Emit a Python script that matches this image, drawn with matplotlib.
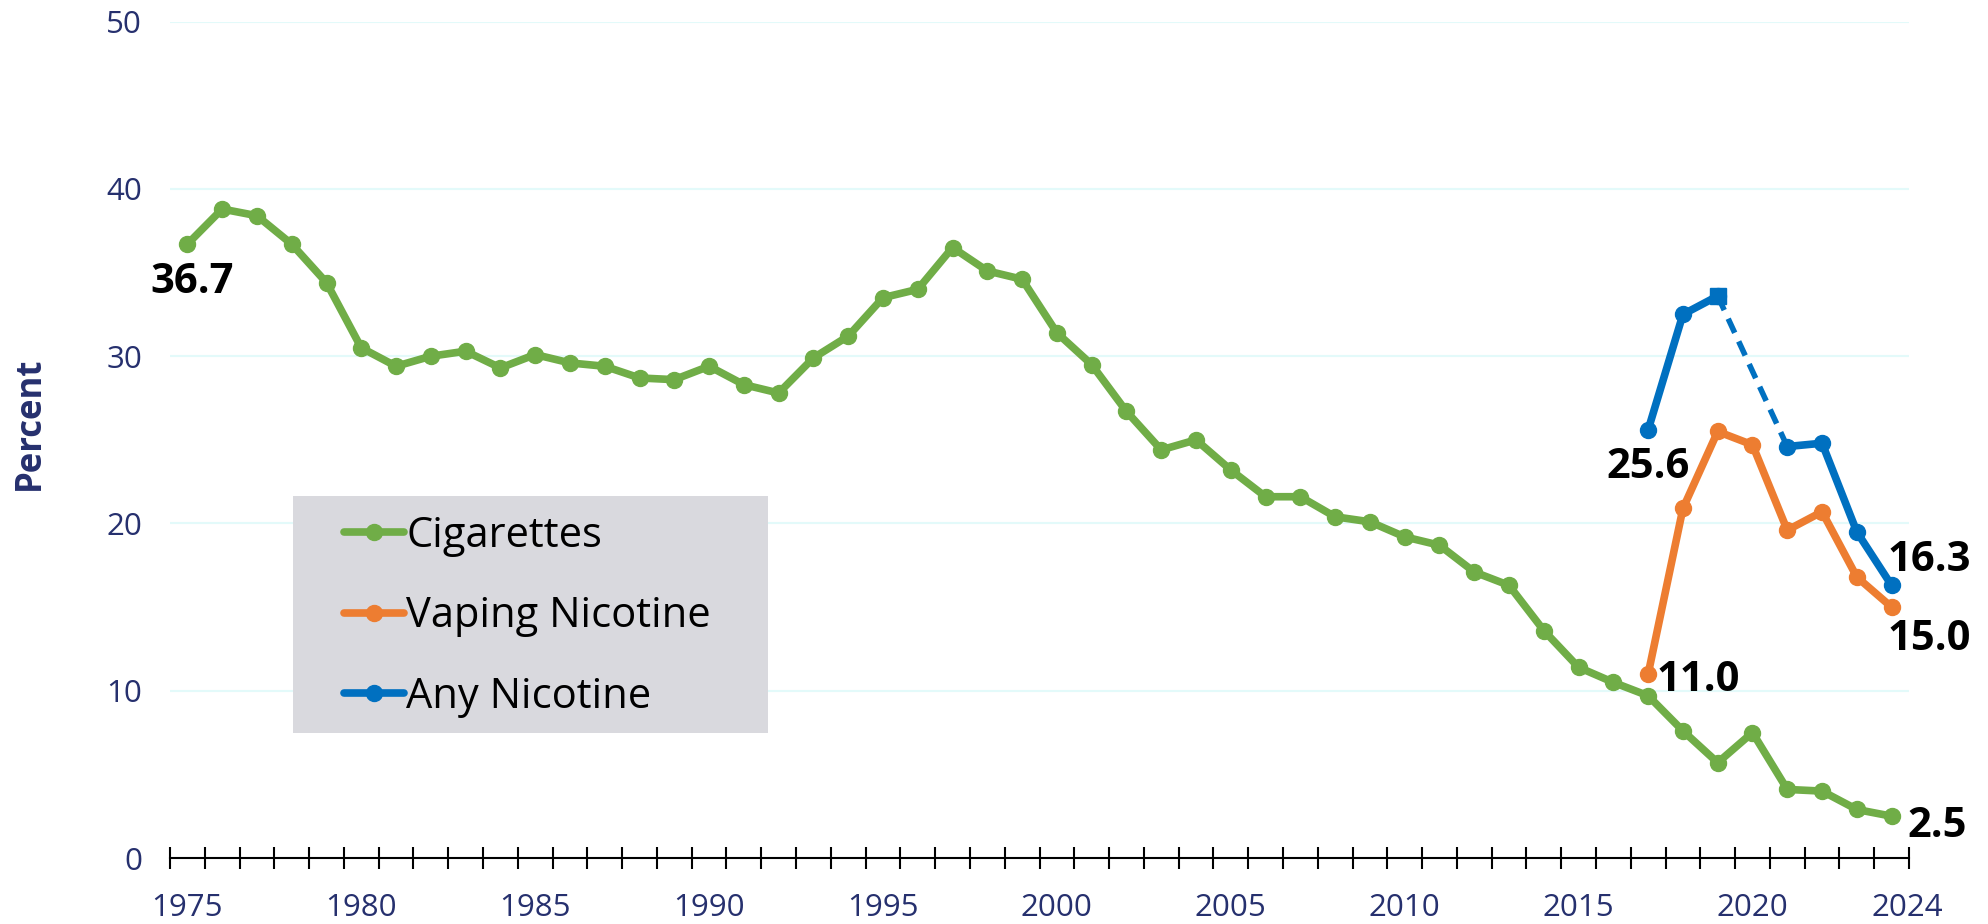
import numpy as np
import matplotlib
matplotlib.use('Agg')
import matplotlib.pyplot as plt
from matplotlib.patches import Rectangle

# 30-day prevalence, 12th graders
years = np.arange(1975, 2025)
cigarettes = [36.7, 38.8, 38.4, 36.7, 34.4, 30.5, 29.4, 30.0, 30.3, 29.3,
              30.1, 29.6, 29.4, 28.7, 28.6, 29.4, 28.3, 27.8, 29.9, 31.2,
              33.5, 34.0, 36.5, 35.1, 34.6, 31.4, 29.5, 26.7, 24.4, 25.0,
              23.2, 21.6, 21.6, 20.4, 20.1, 19.2, 18.7, 17.1, 16.3, 13.6,
              11.4, 10.5, 9.7, 7.6, 5.7, 7.5, 4.1, 4.0, 2.9, 2.5]

nic_years = np.arange(2017, 2025)
vaping = [11.0, 20.9, 25.5, 24.7, 19.6, 20.7, 16.8, 15.0]
any_nicotine = [25.6, 32.5, 33.6, np.nan, 24.6, 24.8, 19.5, 16.3]  # no 2020 value

label_years = ['1975', '1980', '1985', '1990', '1995', '2000',
               '2005', '2010', '2015', '2020', '2024']

GREEN = '#70AD47'
ORANGE = '#ED7D31'
BLUE = '#0070C0'
NAVY = '#26306E'

plt.rcParams['font.family'] = ['Open Sans', 'DejaVu Sans']

W, H = 1988, 924
fig = plt.figure(figsize=(W / 100, H / 100), dpi=100)
ax = fig.add_axes([170 / W, 66 / H, 1739 / W, 836.3 / H])

line_kw = dict(lw=5.5, marker='o', ms=11.5, solid_capstyle='round',
               solid_joinstyle='round', zorder=3)
ax.plot(years, cigarettes, color=GREEN, label='Cigarettes', **line_kw)
ax.plot(nic_years, vaping, color=ORANGE, label='Vaping Nicotine', **line_kw)
ax.plot(nic_years, any_nicotine, color=BLUE, label='Any Nicotine', **line_kw)

# dashed bridge over the missing 2020 estimate
i19 = list(nic_years).index(2019)
i21 = list(nic_years).index(2021)
ax.plot([2019, 2021], [any_nicotine[i19], any_nicotine[i21]], color=BLUE,
        lw=4, ls=(0, (2.8, 1.7)), zorder=3)
ax.plot([2019], [any_nicotine[i19]], color=BLUE, marker='s', ms=11, zorder=4)

ax.set_xlim(1974.5, 2024.5)
ax.set_ylim(0, 50)
ax.set_yticks(np.arange(0, 51, 10))

pos = [int(y) for y in label_years[:-1]] + [int(label_years[-1]) + 0.45]
ax.set_xticks(pos)
ax.set_xticklabels(label_years)
ax.set_xticks(np.arange(1974.5, 2025, 1), minor=True)
ax.tick_params(axis='x', which='major', length=0, pad=25, labelsize=22.5,
               labelcolor=NAVY)
ax.tick_params(axis='x', which='minor', direction='inout', length=16.5,
               width=1.5, color='black')
ax.tick_params(axis='y', length=0, pad=20, labelsize=22.5, labelcolor=NAVY)

for s in ['left', 'right', 'top']:
    ax.spines[s].set_visible(False)
ax.spines['bottom'].set_linewidth(1.5)
ax.spines['bottom'].set_zorder(5)

ax.yaxis.grid(True, color='#E3FAFA', lw=1.5)
ax.set_axisbelow(True)

fig.text(30 / W, 1 - 423 / H, 'Percent', rotation=90, ha='center',
         va='center', fontsize=25, fontweight='bold', color=NAVY)

# legend panel
ax.add_patch(Rectangle((293 / W, 1 - 733 / H), 475 / W, 237 / H,
                       transform=fig.transFigure, facecolor='#D9D9DE',
                       edgecolor='none', zorder=1))
ax.legend(loc='upper left', bbox_to_anchor=(344 / W, 1 - 515 / H),
          bbox_transform=fig.transFigure, frameon=False, fontsize=30,
          handlelength=1.45, handletextpad=0.05, labelspacing=0.92,
          borderpad=0, borderaxespad=0)

lab_kw = dict(textcoords='offset pixels', fontsize=30, fontweight='bold',
              color='black', va='baseline', zorder=6)
ax.annotate(f'{cigarettes[0]:.1f}', (years[0], cigarettes[0]),
            xytext=(5, -49), ha='center', **lab_kw)
ax.annotate(f'{any_nicotine[0]:.1f}', (nic_years[0], any_nicotine[0]),
            xytext=(0, -48), ha='center', **lab_kw)
ax.annotate(f'{vaping[0]:.1f}', (nic_years[0], vaping[0]),
            xytext=(8, -17), ha='left', **lab_kw)
ax.annotate(f'{any_nicotine[-1]:.1f}', (nic_years[-1], any_nicotine[-1]),
            xytext=(-4, 14), ha='left', **lab_kw)
ax.annotate(f'{vaping[-1]:.1f}', (nic_years[-1], vaping[-1]),
            xytext=(-4, -43), ha='left', **lab_kw)
ax.annotate(f'{cigarettes[-1]:.1f}', (years[-1], cigarettes[-1]),
            xytext=(16, -21), ha='left', **lab_kw)

fig.savefig('out.png', dpi=100)
